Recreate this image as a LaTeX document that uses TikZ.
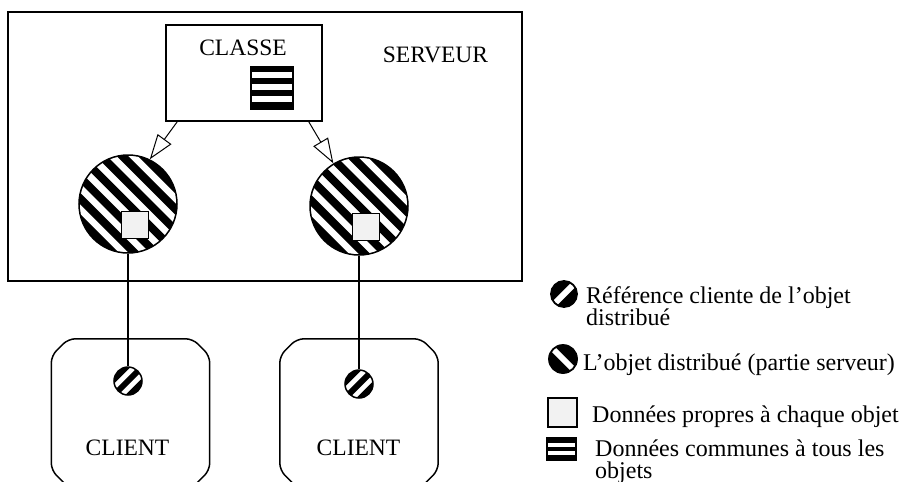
\documentclass[tikz,border=0pt]{standalone}
\usepackage{fontspec}
\setmainfont{Liberation Serif}
\usetikzlibrary{positioning, arrows.meta, calc}

\tikzset{
  srvbox/.style    = {draw, rectangle, line width=1.8pt,
                      minimum width=514pt, minimum height=269pt, inner sep=0pt},
  classbox/.style  = {draw, rectangle, line width=1.6pt,
                      minimum width=156pt, minimum height=96pt, inner sep=0pt},
  clientbox/.style = {rectangle, minimum width=158pt, minimum height=148pt, inner sep=0pt},
  clientline/.style= {line width=1.5pt, rounded corners=7pt},
  lbl/.style       = {font=\fontsize{23.5}{22}\selectfont, inner sep=0pt, anchor=base},
  leg/.style       = {font=\fontsize{24}{22}\selectfont, inner sep=0pt,
                      anchor=base west, align=left},
  hatchdown/.style 2 args = {path picture={
      \foreach \k in {-6,...,6}{
        \draw[line width=#2] ([shift={(\k*#1,\k*#1)}]path picture bounding box.center)
          ++(-80pt,80pt) -- ++(160pt,-160pt);}}},
  hatchup/.style 2 args = {path picture={
      \foreach \k in {-6,...,6}{
        \draw[line width=#2] ([shift={(\k*#1,-\k*#1)}]path picture bounding box.center)
          ++(-80pt,-80pt) -- ++(160pt,160pt);}}},
  slash/.style     = {fill=black, path picture={
      \draw[white, line width=#1] (path picture bounding box.south west)
        -- (path picture bounding box.north east);}},
  backslash/.style = {fill=black, path picture={
      \draw[white, line width=#1] (path picture bounding box.north west)
        -- (path picture bounding box.south east);}},
  bands/.style 2 args = {path picture={
      \foreach \t in {#1}{
        \fill[white] ([yshift=-\t]path picture bounding box.north west)
          rectangle ++(80pt,-#2);}}},
  objet/.style     = {draw, circle, line width=1.5pt, minimum size=98pt,
                      inner sep=0pt, hatchdown={10.6pt}{8pt}},
  refcli/.style    = {draw, circle, line width=1.5pt, minimum size=28pt,
                      inner sep=0pt, hatchup={7.8pt}{6pt}},
  donnee/.style    = {draw, rectangle, line width=1.5pt, fill=black!5,
                      minimum size=27pt, inner sep=0pt},
  commun/.style    = {draw, rectangle, line width=1.5pt, fill=black,
                      minimum width=42pt, minimum height=42pt, inner sep=0pt,
                      bands={5pt,17pt,29pt}{6pt}},
  inh/.style       = {-{Triangle[open, length=25pt, width=17pt]}, line width=1pt},
  wire/.style      = {line width=1.4pt},
}

\begin{document}
\begin{tikzpicture}[x=1pt, y=-1pt]
\useasboundingbox (0,0) rectangle (903,482);

% ── SERVEUR ─────────────────────────────────────────────────
\node[srvbox] (srv) at (265,146.5) {};
\node[lbl] (srv-lbl) at (435.5,62) {SERVEUR};

\node[classbox] (classe) at (244,73) {};
\node[lbl] (classe-lbl) at (243,55) {CLASSE};
\node[commun] (classe-data) at (272,88) {};

% distributed objects, server side
\node[objet] (obj1) at (128,204) {};
\node[donnee] (obj1-data) at (135,225) {};
\node[objet] (obj2) at (359,206) {};
\node[donnee] (obj2-data) at (366,227) {};

\draw[inh] ([xshift=12pt]classe.south west) -- (obj1.64);
\draw[inh] ([xshift=-14pt]classe.south east) -- (obj2.121);

% ── CLIENTS ─────────────────────────────────────────────────
% frame is cut at the corners (17pt), bottom runs off the page
\node[clientbox] (cli1) at (130.5,413) {};
\node[clientbox] (cli2) at (359,413) {};
\foreach \c in {cli1,cli2}
  \draw[clientline] ([yshift=-17pt]\c.north west) -- ([xshift=17pt]\c.north west)
    -- ([xshift=-17pt]\c.north east) -- ([yshift=-17pt]\c.north east)
    -- ([yshift=17pt]\c.south east) -- ([xshift=-17pt]\c.south east)
    -- ([xshift=17pt]\c.south west) -- ([yshift=17pt]\c.south west) -- cycle;

\node[lbl] (cli1-lbl) at (127.5,455) {CLIENT};
\node[refcli] (ref1) at (128,381) {};
\node[lbl] (cli2-lbl) at (358.5,455) {CLIENT};
\node[refcli] (ref2) at (359,384) {};

\draw[wire] (obj1.south) -- (ref1.north);
\draw[wire] (obj2.south) -- (ref2.north);

% ── LEGENDE ─────────────────────────────────────────────────
% two-line texts sit on the baseline of their last line
\node[draw, circle, line width=1.8pt, minimum size=26pt, inner sep=0pt, slash=6pt]
  (leg-ref) at (564,294) {};
\node[leg] (leg-ref-txt) at (586,325) {Référence cliente de l’objet\\distribué};

\node[draw, circle, line width=1.8pt, minimum size=28pt, inner sep=0pt, backslash=6pt]
  (leg-obj) at (563,359) {};
\node[leg] (leg-obj-txt) at (583,370) {L’objet distribué (partie serveur)};

\node[donnee, minimum size=29pt] (leg-data) at (562.5,412.5) {};
\node[leg] (leg-data-txt) at (592,422) {Données propres à chaque objet};

\node[commun, minimum width=29pt, minimum height=22pt, bands={5pt,13pt}{4pt}]
  (leg-com) at (561.5,449) {};
\node[leg] (leg-com-txt) at (595,478) {Données communes à tous les\\objets};

\end{tikzpicture}
\end{document}
